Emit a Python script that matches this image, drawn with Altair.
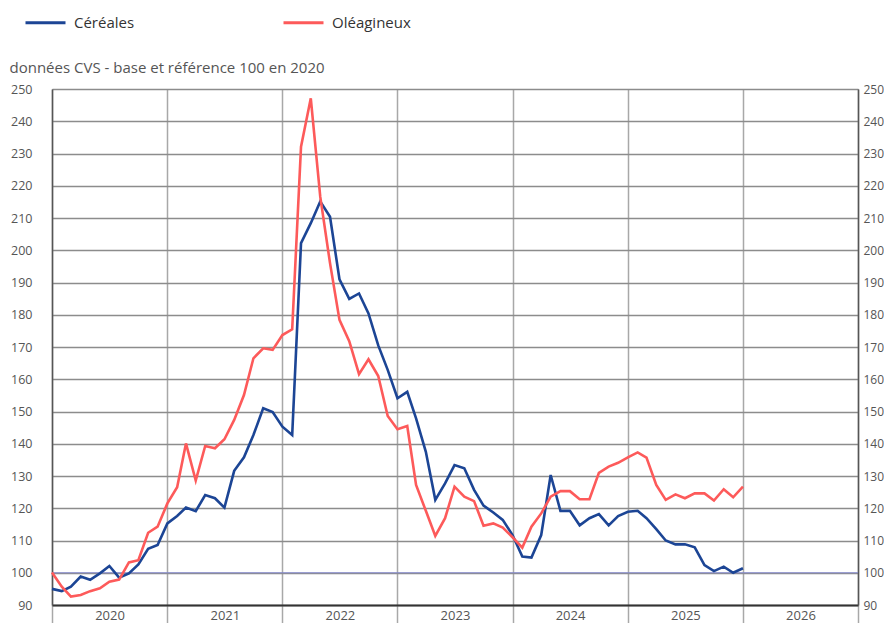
import altair as alt
import pandas as pd

# ---- data -------------------------------------------------------------
series_names = ["Céréales", "Oléagineux"]
series_colors = ["#1c4595", "#fd5a5a"]

months = pd.date_range("2020-01-01", periods=73, freq="MS").strftime("%Y-%m-%d").tolist()

cereales = [95.0, 94.3, 95.7, 98.8, 97.8, 99.8, 102.1, 98.5, 99.8, 102.6, 107.4, 108.6,
            115.3, 117.6, 120.2, 119.1, 124.1, 123.1, 120.2, 131.6, 135.8, 142.7, 151.0, 149.8,
            145.3, 142.7, 202.2, 208.4, 215.1, 210.4, 191.0, 184.9, 186.6, 180.4, 170.5, 162.9,
            154.1, 156.1, 147.9, 137.5, 122.6, 127.7, 133.4, 132.4, 125.7, 120.8, 118.7, 116.4,
            111.7, 105.0, 104.7, 111.7, 130.3, 119.2, 119.2, 114.7, 116.9, 118.2, 114.7, 117.6,
            118.9, 119.2, 116.9, 113.5, 110.0, 108.8, 108.8, 107.9, 102.4, 100.5, 101.9, 100.0,
            101.4]

oleagineux = [100.1, 95.7, 92.6, 93.1, 94.3, 95.2, 97.2, 97.9, 103.2, 103.9, 112.4, 114.3,
              121.5, 126.5, 140.1, 128.6, 139.3, 138.6, 141.4, 147.4, 155.1, 166.5, 169.6, 169.1,
              173.7, 175.5, 232.1, 247.1, 216.6, 196.0, 178.4, 171.8, 161.6, 166.2, 161.0, 148.6,
              144.5, 145.5, 127.2, 119.2, 111.4, 116.9, 126.7, 123.6, 122.2, 114.6, 115.3, 114.0,
              111.0, 107.8, 114.3, 118.4, 123.6, 125.3, 125.3, 122.8, 122.8, 131.0, 132.9, 134.1,
              135.8, 137.3, 135.7, 127.2, 122.6, 124.3, 123.1, 124.6, 124.6, 122.4, 125.9, 123.4,
              126.7]

y_ticks = list(range(90, 251, 10))
year_ticks = list(range(2020, 2028))
reference_value = [100]
subtitle = "données CVS - base et référence 100 en 2020"

# ---- build table --------------------------------------------------------
rows = []
for name, vals in zip(series_names, [cereales, oleagineux]):
    for d, v in zip(months, vals):
        rows.append({"date": d, "serie": name, "valeur": v})
df = pd.DataFrame(rows)
ref_df = pd.DataFrame({"ref": reference_value})

FONT = "Open Sans"
x_domain = [alt.DateTime(year=2020, month=1, date=1, utc=True),
            alt.DateTime(year=2027, month=1, date=1, utc=True)]

x_axis = alt.Axis(
    values=[alt.DateTime(year=y, month=1, date=1, utc=True) for y in year_ticks],
    grid=True, gridColor="#a8a8a8", gridWidth=1.5,
    ticks=True, tickSize=18, tickColor="#a8a8a8", tickWidth=1.5,
    domainColor="#333333", domainWidth=2,
    labelExpr="utcFormat(datum.value, '%Y') == '2027' ? '' : utcFormat(datum.value, '%Y')",
    labelOffset=57.5, labelPadding=-14, labelFlush=False, labelOverlap=False,
    labelFontSize=13, labelColor="#555555", labelFont=FONT, labelAlign="center",
    labelBaseline="top", title=None,
)

y_left = alt.Axis(
    values=y_ticks, grid=True, gridColor="#8c8c8c", gridWidth=1.5,
    ticks=False, domainColor="#555555", domainWidth=1.5,
    labelPadding=20, labelFontSize=12.5, labelColor="#555555", labelFont=FONT,
    title=subtitle, titleAngle=0, titleAlign="left", titleBaseline="alphabetic",
    titleX=-43, titleY=-17, titleFontSize=15, titleFont=FONT, titleColor="#555555",
    titleFontWeight="normal",
)
y_right = alt.Axis(
    values=y_ticks, grid=False, orient="right",
    ticks=False, domainColor="#555555", domainWidth=1.5,
    labelPadding=5, labelFontSize=12, labelColor="#555555", labelFont=FONT,
    title=None,
)

lines = alt.Chart(df).mark_line(strokeWidth=2.6).encode(
    x=alt.X("date:T", scale=alt.Scale(type="utc", domain=x_domain), axis=x_axis),
    y=alt.Y("valeur:Q", scale=alt.Scale(domain=[90, 250], nice=False, zero=False), axis=y_left),
    color=alt.Color(
        "serie:N",
        scale=alt.Scale(domain=series_names, range=series_colors),
        legend=alt.Legend(
            orient="none", legendX=-28, legendY=-88, direction="horizontal",
            title=None, symbolType="stroke", symbolSize=1600, symbolStrokeWidth=3,
            labelFontSize=15, labelColor="#333333", labelFont=FONT, labelOffset=7,
            columnPadding=142, labelLimit=300,
        ),
    ),
)

ref_rule = alt.Chart(ref_df).mark_rule(color="#8388cc", strokeWidth=1.2).encode(
    y=alt.Y("ref:Q", scale=alt.Scale(domain=[90, 250], nice=False, zero=False), axis=y_right),
)

chart = alt.layer(ref_rule, lines).resolve_scale(y="independent").resolve_axis(y="independent").properties(
    width=806,
    height=516,
    padding={"left": 44, "top": 81, "right": 26, "bottom": 18},
    autosize=alt.AutoSizeParams(type="none"),
).configure_view(strokeWidth=0).configure(background="white")

chart.save("out.html", embed_options={"renderer": "svg", "actions": False})
